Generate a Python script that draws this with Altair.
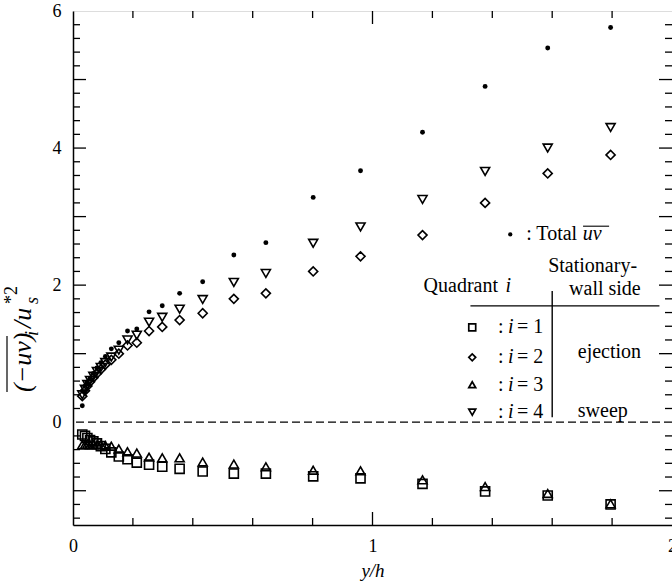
import altair as alt
import pandas as pd

# ---------------- data ----------------
y_over_h = [0.031, 0.040, 0.048, 0.057, 0.068, 0.080, 0.093, 0.108, 0.128, 0.153,
            0.182, 0.213, 0.254, 0.298, 0.356, 0.433, 0.537, 0.644, 0.802, 0.960,
            1.167, 1.376, 1.585, 1.795]
q1 = [-0.18, -0.20, -0.23, -0.26, -0.28, -0.31, -0.35, -0.39, -0.44, -0.50,
      -0.54, -0.59, -0.62, -0.65, -0.68, -0.72, -0.75, -0.75, -0.79, -0.82,
      -0.90, -1.01, -1.07, -1.20]
q2 = [0.38, 0.46, 0.53, 0.59, 0.65, 0.71, 0.77, 0.84, 0.91, 1.00,
      1.12, 1.16, 1.33, 1.39, 1.49, 1.59, 1.80, 1.88, 2.20, 2.42,
      2.73, 3.20, 3.63, 3.90]
q3 = [-0.33, -0.33, -0.32, -0.33, -0.33, -0.33, -0.33, -0.34, -0.35, -0.39,
      -0.43, -0.45, -0.51, -0.52, -0.52, -0.58, -0.61, -0.65, -0.70, -0.71,
      -0.84, -0.94, -1.04, -1.19]
q4 = [0.40, 0.48, 0.55, 0.61, 0.67, 0.74, 0.80, 0.87, 0.95, 1.05,
      1.20, 1.27, 1.46, 1.53, 1.65, 1.79, 2.04, 2.17, 2.61, 2.85,
      3.25, 3.66, 4.00, 4.30]
total = [0.24, 0.45, 0.56, 0.63, 0.71, 0.79, 0.87, 0.96, 1.07, 1.16,
         1.33, 1.36, 1.61, 1.70, 1.88, 2.05, 2.44, 2.62, 3.28, 3.67,
         4.23, 4.90, 5.46, 5.76]

series_names = ["i=1", "i=2", "i=3", "i=4"]
series_shapes = ["square", "diamond", "triangle-up", "triangle-down"]

x_ticklabels = [0, 1, 2]
y_ticklabels = [0, 2, 4, 6]
x_minor = [0.2, 0.4, 0.6, 0.8, 1.2, 1.4, 1.6, 1.8]
x_major = [1.0]
y_major = [-1, 1, 2, 3, 4, 5]
y_minor = [round(-1.4 + 0.2 * k, 1) for k in range(37)]
y_minor = [v for v in y_minor if abs(v - round(v)) > 1e-6]

W, H = 599, 514
FONT = "Liberation Serif"

xs = alt.Scale(domain=[0, 2], nice=False, zero=False)
ys = alt.Scale(domain=[-1.5, 6], nice=False, zero=False)

XAX = alt.Axis(values=x_ticklabels, format=".0f", ticks=False, grid=False, title="y/h",
               labelFont=FONT, labelFontSize=18, labelColor="black", labelPadding=12,
               labelFlush=False, labelOverlap=False, domainColor="black", domainWidth=1.5,
               titleFont=FONT, titleFontSize=19, titleFontStyle="italic",
               titleFontWeight="normal", titleColor="black", titlePadding=6)
YAX = alt.Axis(values=y_ticklabels, format=".0f", ticks=False, grid=False, title=None,
               labelFont=FONT, labelFontSize=18, labelColor="black", labelPadding=12,
               labelFlush=False, labelOverlap=False, domainColor="black", domainWidth=1.5)

def X(field):
    return alt.X(field, scale=xs, axis=XAX)

def Y(field):
    return alt.Y(field, scale=ys, axis=YAX)

rows = []
for name, vals in zip(series_names, [q1, q2, q3, q4]):
    for xv, yv in zip(y_over_h, vals):
        rows.append({"x": xv, "y": yv, "s": name})
quad_df = pd.DataFrame(rows)
tot_df = pd.DataFrame({"x": y_over_h, "y": total})

quad = alt.Chart(quad_df).mark_point(filled=False, stroke="black", strokeWidth=1.6, size=82, opacity=1).encode(
    x=X("x:Q"), y=Y("y:Q"),
    shape=alt.Shape("s:N", scale=alt.Scale(domain=series_names, range=series_shapes), legend=None),
)

dots = alt.Chart(tot_df).mark_circle(color="black", size=24, opacity=1).encode(x=X("x:Q"), y=Y("y:Q"))

zero_df = pd.DataFrame({"y": [0]})
zero_line = alt.Chart(zero_df).mark_rule(color="black", strokeWidth=1.2, strokeDash=[8, 4]).encode(y=Y("y:Q"))

def xticks(vals, length):
    d = pd.DataFrame({"v": vals})
    b = alt.Chart(d).mark_rule(color="black", strokeWidth=1.3).encode(
        x=X("v:Q"), y=alt.value(H), y2=alt.value(H - length))
    t = alt.Chart(d).mark_rule(color="black", strokeWidth=1.3).encode(
        x=X("v:Q"), y=alt.value(0), y2=alt.value(length))
    return [b, t]

def yticks(vals, length):
    d = pd.DataFrame({"v": vals})
    l = alt.Chart(d).mark_rule(color="black", strokeWidth=1.3).encode(
        y=Y("v:Q"), x=alt.value(0), x2=alt.value(length))
    r = alt.Chart(d).mark_rule(color="black", strokeWidth=1.3).encode(
        y=Y("v:Q"), x=alt.value(W - length), x2=alt.value(W))
    return [l, r]

ticks = xticks(x_minor, 7) + xticks(x_major, 13) + yticks(y_minor, 7) + yticks(y_major, 13)

# ---------------- legend / annotation ----------------
leg_sym_y = [1.383, 0.946, 0.547, 0.146]
leg_df = pd.DataFrame({"x": [1.333] * 4, "y": leg_sym_y, "s": series_names})
leg_syms = alt.Chart(leg_df).mark_point(filled=False, stroke="black", strokeWidth=1.7, size=48, opacity=1).encode(
    x=X("x:Q"), y=Y("y:Q"),
    shape=alt.Shape("s:N", scale=alt.Scale(domain=series_names, range=series_shapes), legend=None))
leg_dot = alt.Chart(pd.DataFrame({"x": [1.46], "y": [2.74]})).mark_circle(color="black", size=18, opacity=1).encode(
    x=X("x:Q"), y=Y("y:Q"))

def txt(df, align="left", style="normal", size=20, dx=0):
    return alt.Chart(df).mark_text(font=FONT, fontSize=size, fontStyle=style, align=align,
                                   baseline="middle", color="black", dx=dx).encode(
        x=X("x:Q"), y=Y("y:Q"), text="t:N")

t_colon = txt(pd.DataFrame({"x": [1.419] * 4, "y": leg_sym_y, "t": [":"] * 4}))
t_i = txt(pd.DataFrame({"x": [1.419] * 4, "y": leg_sym_y, "t": ["i"] * 4}), style="italic", dx=10)
t_num = txt(pd.DataFrame({"x": [1.419] * 4, "y": leg_sym_y,
                         "t": ["= " + str(k) for k in range(1, 5)]}), dx=19)
t_total = txt(pd.DataFrame({"x": [1.513], "y": [2.74], "t": [": Total"]}))
t_uv = txt(pd.DataFrame({"x": [1.702], "y": [2.74], "t": ["uv"]}), style="italic")
uv_bar = alt.Chart(pd.DataFrame({"x": [1.703], "x2": [1.790], "y": [2.86]})).mark_rule(
    color="black", strokeWidth=1.1).encode(x=X("x:Q"), x2="x2:Q", y=Y("y:Q"))
t_quad = txt(pd.DataFrame({"x": [1.419], "y": [1.988], "t": ["Quadrant"]}), align="right")
t_quad_i = txt(pd.DataFrame({"x": [1.444], "y": [1.988], "t": ["i"]}), style="italic")
t_center = txt(pd.DataFrame({"x": [1.735, 1.776, 1.791, 1.769], "y": [2.28, 1.94, 1.019, 0.169],
                             "t": ["Stationary-", "wall side", "ejection", "sweep"]}), align="center")
hline = alt.Chart(pd.DataFrame({"x": [1.327], "x2": [1.958], "y": [1.697]})).mark_rule(
    color="black", strokeWidth=1.4).encode(x=X("x:Q"), x2="x2:Q", y=Y("y:Q"))
vline = alt.Chart(pd.DataFrame({"x": [1.60], "y": [1.916], "y2": [0.073]})).mark_rule(
    color="black", strokeWidth=1.4).encode(x=X("x:Q"), y=Y("y:Q"), y2="y2:Q")

# ---------------- y-axis title built from pieces ----------------
one = pd.DataFrame({"a": [0]})
def ytitle_piece(text, px, py, size, style="italic"):
    return alt.Chart(one).mark_text(text=text, font=FONT, fontSize=size, fontStyle=style, angle=270,
                                    align="left", baseline="middle", color="black").encode(
        x=alt.value(px), y=alt.value(py))

yt = [
    ytitle_piece("(\u2212uv)", -50, 381, 26),
    ytitle_piece("i", -40, 325, 18),
    ytitle_piece("/u", -50, 317, 26),
    ytitle_piece("*2", -61, 293, 18, "normal"),
    ytitle_piece("s", -40, 293, 18),
]
yt_bar = alt.Chart(one).mark_rule(color="black", strokeWidth=1.2).encode(
    x=alt.value(-66), y=alt.value(325), y2=alt.value(381))

chart = alt.layer(
    zero_line, *ticks, quad, dots, leg_syms, leg_dot, t_colon, t_i, t_num, t_total, t_uv, uv_bar,
    t_quad, t_quad_i, t_center, hline, vline, *yt, yt_bar
).properties(
    width=W, height=H,
    autosize=alt.AutoSizeParams(type="none"),
    padding={"left": 73, "top": 11, "right": 0, "bottom": 60},
).configure_view(stroke="black", strokeWidth=1.5).configure(background="white")

chart.save("out.html", embed_options={"renderer": "svg", "actions": False})
